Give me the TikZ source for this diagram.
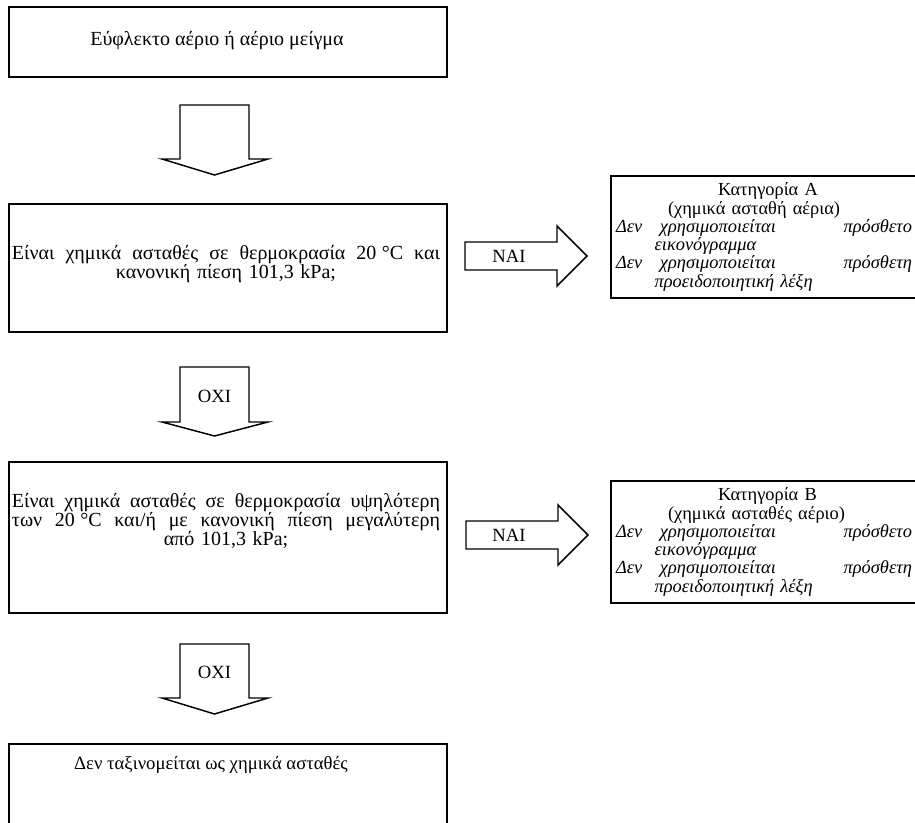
\documentclass[tikz,border=0pt]{standalone}
\usepackage{fontspec}
\setmainfont{Liberation Serif}
\newcommand\spreadline[1]{\makebox[\linewidth][s]{\spaceskip=0pt\relax #1}}

\begin{document}
\begin{tikzpicture}[x=0.75pt, y=-0.75pt,
            box/.style={draw, line width=1.1pt, inner sep=0pt},
            txt/.style={font=\fontsize{15}{14}\selectfont, align=center, inner sep=0pt},
            lbl/.style={font=\fontsize{14}{14}\selectfont, inner sep=0pt},
            cattxt/.style={font=\fontsize{13.8}{13.7}\selectfont, align=left,
                text width=222pt, inner sep=0pt},
            blk/.style={draw, line width=1.1pt, line join=miter}
          ]
          \clip (0,0) rectangle (915,823);
          % left column
          \node[box, minimum width=328.5pt, minimum height=52.5pt] (flam) at (228,42) {};
          \node[txt] (flamtxt) at (217,41) {Εύφλεκτο αέριο ή αέριο μείγμα};
          \node[box, minimum width=328.5pt, minimum height=96pt] (q1) at (228,268) {};
          \node[txt, text width=321pt] (q1txt) at (226,264)
          {\spreadline{Είναι χημικά ασταθές σε θερμοκρασία 20\hspace{4pt}°C και}\\
            κανονική πίεση 101,3 kPa;};
          \node[box, minimum width=328.5pt, minimum height=113.25pt] (q2) at (228,537.5) {};
          \node[txt, text width=321pt] (q2txt) at (226,521)
          {\spreadline{Είναι χημικά ασταθές σε θερμοκρασία υψηλότερη}\\
            \spreadline{των 20\hspace{4pt}°C και/ή με κανονική πίεση μεγαλύτερη}\\
            από 101,3 kPa;};
          \node[box, minimum width=328.5pt, minimum height=75pt] (none) at (228,794) {};
          \node[txt, font=\fontsize{14}{14}\selectfont] (nonetxt) at (211,765)
          {Δεν ταξινομείται ως χημικά ασταθές};
          % right column
          \node[box, minimum width=235.5pt, minimum height=91.5pt] (catA) at (768,237) {};
          \node[cattxt] (catAtxt) at (764,237)
          {\hspace*{76.5pt}Κατηγορία Α\\
            \hspace*{39pt}(χημικά ασταθή αέρια)\\
            \itshape\spreadline{\makebox[33pt][l]{Δεν}χρησιμοποιείται πρόσθετο}\\
            \hspace*{29pt}εικονόγραμμα\\
            \spreadline{\makebox[33pt][l]{Δεν}χρησιμοποιείται πρόσθετη}\\
            \hspace*{29pt}προειδοποιητική λέξη};
          \node[box, minimum width=235.5pt, minimum height=91.5pt] (catB) at (768,542) {};
          \node[cattxt] (catBtxt) at (764,542)
          {\hspace*{76.5pt}Κατηγορία Β\\
            \hspace*{39pt}(χημικά ασταθές αέριο)\\
            \itshape\spreadline{\makebox[33pt][l]{Δεν}χρησιμοποιείται πρόσθετο}\\
            \hspace*{29pt}εικονόγραμμα\\
            \spreadline{\makebox[33pt][l]{Δεν}χρησιμοποιείται πρόσθετη}\\
            \hspace*{29pt}προειδοποιητική λέξη};
          % block arrows
          \draw[blk] (180,105) -- (249,105) -- (249,159) -- (268,159) -- (214.5,175)
          -- (162,159) -- (180,159) -- cycle;
          \draw[blk] (180,367) -- (249,367) -- (249,422) -- (268,422) -- (214.5,436)
          -- (162,422) -- (180,422) -- cycle;
          \node[lbl] (no1) at (214.5,396) {ΟΧΙ};
          \draw[blk] (180,644) -- (249,644) -- (249,698) -- (268,698) -- (214.5,714)
          -- (162,698) -- (180,698) -- cycle;
          \node[lbl] (no2) at (214.5,672) {ΟΧΙ};
          \draw[blk] (465,242) -- (557,242) -- (557,226) -- (587,256) -- (557,286)
          -- (557,270) -- (465,270) -- cycle;
          \node[lbl] (yes1) at (509,256) {ΝΑΙ};
          \draw[blk] (466,521) -- (558,521) -- (558,505) -- (588,535) -- (558,565)
          -- (558,549) -- (466,549) -- cycle;
          \node[lbl] (yes2) at (509,535) {ΝΑΙ};
        \end{tikzpicture}
\end{document}
